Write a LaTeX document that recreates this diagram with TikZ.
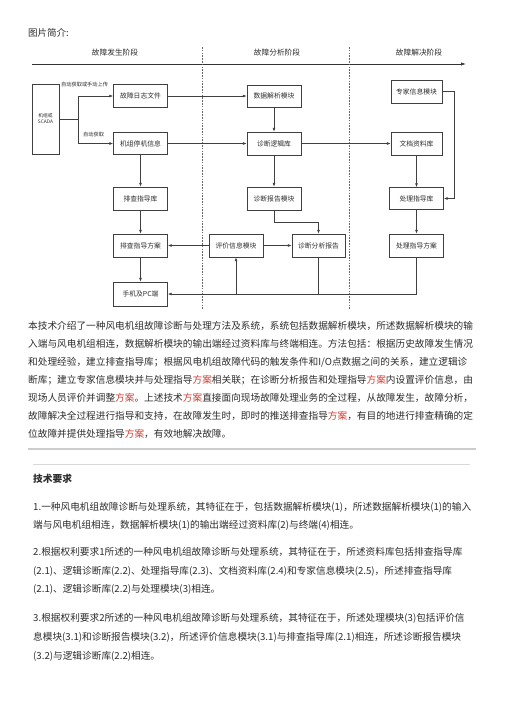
\documentclass[tikz,border=0pt]{standalone}
\usepackage{fontspec}
\setmainfont{Noto Sans CJK SC}
\usetikzlibrary{arrows.meta}
\definecolor{redfa}{RGB}{205,62,50}
\definecolor{txt}{RGB}{45,45,45}
\newcommand\redfa{\textcolor{redfa}{方案}}
\newcommand\boxfont{\fontsize{6.8}{8}\selectfont}
\newcommand\bodyfont{\fontsize{9.67}{12}\selectfont}
\begin{document}
\begin{tikzpicture}[x=1pt,y=-1pt,
  box/.style={draw=black!75, line width=0.6pt, fill=white, inner sep=0pt,
    minimum width=54pt, minimum height=23pt, font=\boxfont, text=txt},
  arr/.style={-{Latex[length=3.8pt,width=2.8pt]}, line width=0.6pt, draw=black!75},
  ln/.style={line width=0.6pt, draw=black!75},
  phase/.style={font=\fontsize{7.7}{9}\selectfont, text=txt, inner sep=0pt},
  tiny/.style={font=\fontsize{5.2}{6}\selectfont, text=txt, inner sep=0pt, anchor=west},
  body/.style={anchor=base west, inner sep=0pt, font=\bodyfont, text=txt},
  sepdash/.style={draw=black!60, line width=0.5pt, dash pattern=on 1.6pt off 1.2pt}]
\useasboundingbox (0,0) rectangle (504,713);
\fill[white] (0,0) rectangle (504,713);

% title
\node[body, font=\fontsize{9.5}{11}\selectfont] (title) at (28,36.5) {图片简介:};

% phases
\node[phase] (ph1) at (115,53) {故障发生阶段};
\node[phase] (ph2) at (277,53) {故障分析阶段};
\node[phase] (ph3) at (419,53) {故障解决阶段};
\coordinate (tl0) at (32,64);
\coordinate (tl1) at (466,64);
\draw[-{Latex[length=5pt,width=3.2pt]}, line width=0.7pt, draw=black!80] (tl0) -- (tl1);
\coordinate (d1a) at (202,47); \coordinate (d1b) at (202,310);
\coordinate (d2a) at (349,47); \coordinate (d2b) at (349,310);
\draw[sepdash] (d1a) -- (d1b);
\draw[sepdash] (d2a) -- (d2b);

% boxes
\node[box, minimum width=27pt, minimum height=70pt, align=center,
  font=\fontsize{4.8}{6}\selectfont] (scada) at (45.5,119) {机组或\\SCADA};
\node[box] (log)   at (140.5,96)    {故障日志文件};
\node[box, minimum height=22pt] (stop)  at (140.5,143.5) {机组停机信息};
\node[box] (pcku)  at (140.5,198.5) {排查指导库};
\node[box] (pcfa)  at (140.5,245.5) {排查指导方案};
\node[box, minimum height=24pt] (phone) at (140.5,294) {手机及PC端};

\node[box, minimum height=22pt] (parse) at (274,96)    {数据解析模块};
\node[box] (logic) at (274,143.5) {诊断逻辑库};
\node[box] (rmod)  at (274,198.5) {诊断报告模块};
\node[box] (eval)  at (236,245.5) {评价信息模块};
\node[box, minimum width=53pt] (report) at (318.5,245.5) {诊断分析报告};

\node[box, minimum width=51pt] (expert) at (416.5,91.5)  {专家信息模块};
\node[box, minimum width=51pt] (doc)    at (416.5,143.5) {文档资料库};
\node[box, minimum height=22pt] (proc)  at (416.5,198.5) {处理指导库};
\node[box] (procfa) at (416.5,245.5) {处理指导方案};

% small labels
\node[tiny] (l1) at (61,84.5) {自动获取或手动上传};
\node[tiny] (l2) at (83,134.5) {自动获取};

% connectors
\coordinate (jn) at (78,119);
\draw[ln] (scada.east) -- (jn);
\draw[arr] (jn) |- (log.west);
\draw[arr] (jn) |- (stop.west);
\draw[arr] (log) -- (parse);
\draw[arr] (stop) -- (logic);
\draw[arr] (parse) -- (logic);
\draw[arr] (logic) -- (doc);
\draw[arr] (logic) -- (rmod);
\coordinate (c1) at (318.5,222);
\draw[arr] (rmod.south) |- (c1) -- (report.north);
\draw[arr] (eval) -- (report);
\draw[arr] (eval) -- (pcfa);
\draw[arr] (stop) -- (pcku);
\draw[arr] (pcku) -- (pcfa);
\draw[arr] (pcfa) -- (phone);
\coordinate (c2) at (454,91.5);
\draw[arr] (expert.east) -- (c2) |- (proc.east);
\draw[arr] (doc) -- (proc);
\draw[arr] (proc) -- (procfa);
\draw[arr] (procfa.south) |- (phone.east);
\draw[ln] (report.south) -- (report.south |- phone.east);
\draw[arr] (eval.south |- phone.east) -- (eval.south);

% body text
\node[body] (b1) at (28,329.6) {本技术介绍了一种风电机组故障诊断与处理方法及系统，系统包括数据解析模块，所述数据解析模块的输};
\node[body] (b2) at (28,347.6) {入端与风电机组相连，数据解析模块的输出端经过资料库与终端相连。方法包括：根据历史故障发生情况};
\node[body] (b3) at (28,365.6) {和处理经验，建立排查指导库；根据风电机组故障代码的触发条件和I/O点数据之间的关系，建立逻辑诊};
\node[body] (b4) at (28,383.6) {断库；建立专家信息模块并与处理指导\redfa{}相关联；在诊断分析报告和处理指导\redfa{}内设置评价信息，由};
\node[body] (b5) at (28,401.6) {现场人员评价并调整\redfa{}。上述技术\redfa{}直接面向现场故障处理业务的全过程，从故障发生，故障分析，};
\node[body] (b6) at (28,419.6) {故障解决全过程进行指导和支持，在故障发生时，即时的推送排查指导\redfa{}，有目的地进行排查精确的定};
\node[body] (b7) at (28,437.6) {位故障并提供处理指导\redfa{}，有效地解决故障。};

% rules
\coordinate (r1a) at (28,449); \coordinate (r1b) at (476,449);
\coordinate (r2a) at (33,464); \coordinate (r2b) at (470,464);
\draw[draw=black!20, line width=1.6pt] (r1a) -- (r1b);
\draw[draw=black!15, line width=1pt] (r2a) -- (r2b);

% claims
\node[body, font=\fontsize{9.7}{12}\selectfont\bfseries] (req) at (33,482.6) {技术要求};
\node[body] (c1l1) at (33,510.6) {1.一种风电机组故障诊断与处理系统，其特征在于，包括数据解析模块(1)，所述数据解析模块(1)的输入};
\node[body] (c1l2) at (33,528.6) {端与风电机组相连，数据解析模块(1)的输出端经过资料库(2)与终端(4)相连。};
\node[body] (c2l1) at (33,555.6) {2.根据权利要求1所述的一种风电机组故障诊断与处理系统，其特征在于，所述资料库包括排查指导库};
\node[body] (c2l2) at (33,574.1) {(2.1)、逻辑诊断库(2.2)、处理指导库(2.3)、文档资料库(2.4)和专家信息模块(2.5)，所述排查指导库};
\node[body] (c2l3) at (33,592.6) {(2.1)、逻辑诊断库(2.2)与处理模块(3)相连。};
\node[body] (c3l1) at (33,621.6) {3.根据权利要求2所述的一种风电机组故障诊断与处理系统，其特征在于，所述处理模块(3)包括评价信};
\node[body] (c3l2) at (33,640.6) {息模块(3.1)和诊断报告模块(3.2)，所述评价信息模块(3.1)与排查指导库(2.1)相连，所述诊断报告模块};
\node[body] (c3l3) at (33,659.6) {(3.2)与逻辑诊断库(2.2)相连。};
\end{tikzpicture}
\end{document}
